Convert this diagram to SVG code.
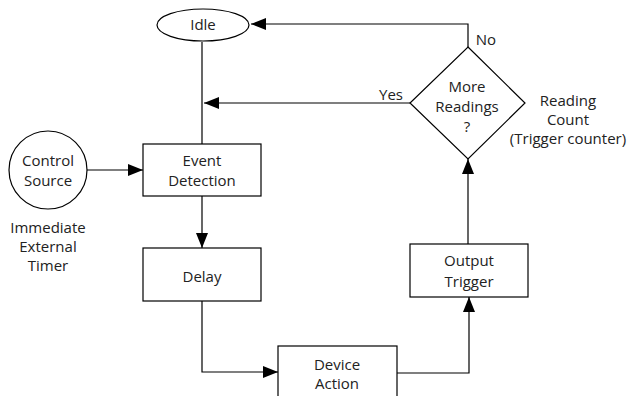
<svg xmlns="http://www.w3.org/2000/svg" width="631" height="396" viewBox="0 0 631 396">
<style>
.s{fill:#fff;stroke:#000;stroke-width:1.2}
.c{fill:none;stroke:#000;stroke-width:1.2}
text{font-family:"Open Sans","Liberation Sans",sans-serif;font-size:15px;fill:#222;text-anchor:middle}
</style>
<defs>
<marker id="a" markerUnits="userSpaceOnUse" markerWidth="16" markerHeight="12" refX="15" refY="6" orient="auto">
<path d="M0,0 L15,6 L0,12 Z" fill="#000"/>
</marker>
</defs>
<rect width="631" height="396" fill="#fff"/>
<g id="connectors">
<path class="c" d="M202,42 V144" />
<path class="c" d="M468,47 V24 H251" marker-end="url(#a)"/>
<path class="c" d="M410,103 H204" marker-end="url(#a)"/>
<path class="c" d="M87,170 H143" marker-end="url(#a)"/>
<path class="c" d="M202,196 V248" marker-end="url(#a)"/>
<path class="c" d="M202,301 V372 H278" marker-end="url(#a)"/>
<path class="c" d="M397,373 H469 V297" marker-end="url(#a)"/>
<path class="c" d="M468,244 V159" marker-end="url(#a)"/>
<text x="391" y="100">Yes</text>
<text x="486" y="45">No</text>
</g>
<g id="idle">
<ellipse class="s" cx="203" cy="25" rx="46" ry="16"/>
<text x="203" y="30">Idle</text>
</g>
<g id="decision">
<path class="s" d="M468,47 L525,103 L468,159 L410,103 Z"/>
<text x="467" y="92">More</text>
<text x="467" y="112">Readings</text>
<text x="467" y="132">?</text>
</g>
<g id="reading-count">
<text x="568" y="106">Reading</text>
<text x="568" y="125">Count</text>
<text x="568" y="144">(Trigger counter)</text>
</g>
<g id="control-source">
<circle class="s" cx="48" cy="170" r="39"/>
<text x="48" y="166">Control</text>
<text x="48" y="186">Source</text>
</g>
<g id="control-options">
<text x="48" y="233">Immediate</text>
<text x="48" y="252">External</text>
<text x="48" y="271">Timer</text>
</g>
<g id="event-detection">
<rect class="s" x="143" y="144" width="118" height="52"/>
<text x="202" y="166">Event</text>
<text x="202" y="186">Detection</text>
</g>
<g id="delay">
<rect class="s" x="143" y="248" width="118" height="53"/>
<text x="202" y="282">Delay</text>
</g>
<g id="device-action">
<rect class="s" x="278" y="346" width="119" height="60"/>
<text x="337" y="370">Device</text>
<text x="337" y="389">Action</text>
</g>
<g id="output-trigger">
<rect class="s" x="410" y="244" width="118" height="53"/>
<text x="469" y="266">Output</text>
<text x="469" y="287">Trigger</text>
</g>
</svg>
